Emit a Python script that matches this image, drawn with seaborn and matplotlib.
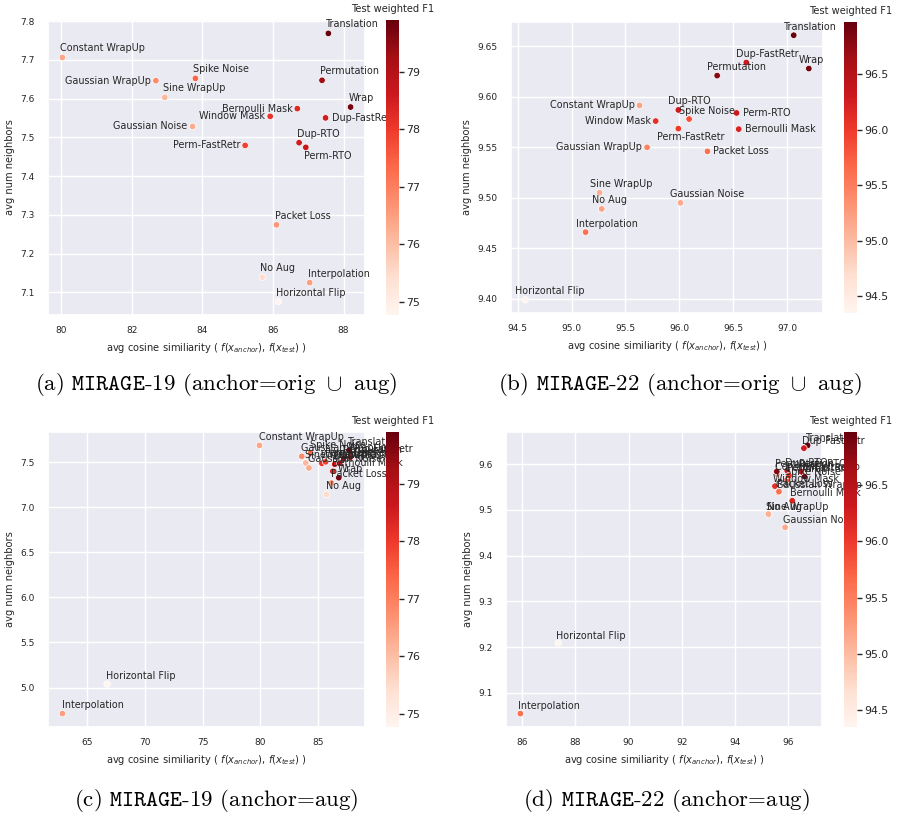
import matplotlib
matplotlib.use("Agg")
import numpy as np
import pandas as pd
import seaborn as sns
import matplotlib.pyplot as plt
from matplotlib.ticker import MultipleLocator
from matplotlib.colors import Normalize
from matplotlib.cm import ScalarMappable

# ---------------- data ----------------
augs = ["No Aug", "Constant WrapUp", "Gaussian WrapUp", "Sine WrapUp", "Spike Noise",
        "Gaussian Noise", "Bernoulli Mask", "Window Mask", "Horizontal Flip", "Interpolation",
        "Packet Loss", "Translation", "Wrap", "Permutation", "Dup-RTO", "Dup-FastRetr",
        "Perm-RTO", "Perm-FastRetr"]

# MIRAGE-19 test weighted F1
m19_f1 = [75.5, 76.4, 76.8, 76.1, 77.4, 76.3, 78.3, 78.1, 74.77, 76.5,
          76.6, 79.9, 79.75, 79.3, 78.55, 78.5, 78.7, 77.9]
# MIRAGE-19, anchor = orig U aug
m19_cos_origaug = [85.70, 80.03, 82.68, 82.93, 83.80, 83.72, 86.69, 85.92, 86.15, 87.04,
                   86.10, 87.57, 88.20, 87.39, 86.74, 87.49, 86.93, 85.21]
m19_nbr_origaug = [7.139, 7.706, 7.646, 7.603, 7.652, 7.528, 7.574, 7.554, 7.076, 7.125,
                   7.274, 7.768, 7.578, 7.647, 7.486, 7.550, 7.474, 7.479]
# MIRAGE-19, anchor = aug
m19_cos_aug = [85.71, 79.91, 83.57, 83.91, 84.34, 84.19, 86.25, 85.31, 66.74, 62.88,
               86.14, 87.65, 86.77, 87.19, 86.42, 87.79, 86.85, 85.63]
m19_nbr_aug = [7.143, 7.684, 7.563, 7.489, 7.599, 7.434, 7.397, 7.486, 5.039, 4.712,
               7.268, 7.629, 7.326, 7.541, 7.475, 7.555, 7.486, 7.502]

# MIRAGE-22 test weighted F1
m22_f1 = [95.2, 95.2, 95.45, 95.1, 95.85, 95.15, 96.2, 96.1, 94.35, 95.6,
          95.6, 96.97, 96.9, 96.8, 96.3, 96.3, 96.3, 96.0]
# MIRAGE-22, anchor = orig U aug
m22_cos_origaug = [95.28, 95.63, 95.70, 95.26, 96.09, 96.01, 96.55, 95.78, 94.57, 95.13,
                   96.26, 97.06, 97.20, 96.35, 95.99, 96.62, 96.53, 95.99]
m22_nbr_origaug = [9.489, 9.5915, 9.550, 9.505, 9.578, 9.495, 9.568, 9.576, 9.399, 9.466,
                   9.546, 9.661, 9.628, 9.621, 9.587, 9.634, 9.584, 9.5685]
# MIRAGE-22, anchor = aug
m22_cos_aug = [95.28, 95.59, 95.64, 95.26, 95.97, 95.89, 96.16, 95.51, 87.35, 85.93,
               95.66, 96.74, 96.62, 95.58, 95.97, 96.60, 96.49, 96.04]
m22_nbr_aug = [9.489, 9.578, 9.538, 9.491, 9.566, 9.462, 9.520, 9.552, 9.209, 9.055,
               9.540, 9.641, 9.573, 9.584, 9.586, 9.635, 9.584, 9.575]

captions = [r"$\text{(a) }\mathtt{MIRAGE}\text{-19 (anchor=orig }\cup\text{ aug)}$",
            r"$\text{(b) }\mathtt{MIRAGE}\text{-22 (anchor=orig }\cup\text{ aug)}$",
            r"$\text{(c) }\mathtt{MIRAGE}\text{-19 (anchor=aug)}$",
            r"$\text{(d) }\mathtt{MIRAGE}\text{-22 (anchor=aug)}$"]

# label placement per panel (default: above the point)
place_a = {"Gaussian WrapUp": "left", "Bernoulli Mask": "left", "Window Mask": "left",
           "Gaussian Noise": "left", "Perm-FastRetr": "left", "Dup-FastRetr": "right",
           "Perm-RTO": "down"}
place_b = {"Constant WrapUp": "left", "Window Mask": "left", "Gaussian WrapUp": "left",
           "Perm-RTO": "right", "Bernoulli Mask": "right", "Packet Loss": "right",
           "Perm-FastRetr": "down"}

# ---------------- style ----------------
sns.set_theme(style="darkgrid")
plt.rcParams["font.family"] = ["DejaVu Sans"]
plt.rcParams.update({"xtick.major.size": 0, "ytick.major.size": 0})

W, H = 901, 818
fig = plt.figure(figsize=(W / 100, H / 100), dpi=100)


def frac(x0, y0, x1, y1):
    return [x0 / W, 1 - y1 / H, (x1 - x0) / W, (y1 - y0) / H]


panels = [
    dict(cos=m19_cos_origaug, nbr=m19_nbr_origaug, f1=m19_f1, box=(48, 20, 365, 315),
         cbox=(386, 20, 399, 315), xstep=2, ystep=0.1, up=(-1.4, 6.5), down=(-1.4, -6.2),
         place=place_a, cap=(216, 385)),
    dict(cos=m22_cos_origaug, nbr=m22_nbr_origaug, f1=m22_f1, box=(511, 22, 823, 313),
         cbox=(844, 22, 857, 313), xstep=0.5, ystep=0.05, up=(-7.2, 6.1), down=(-15.1, -6.0),
         place=place_b, cap=(680, 385)),
    dict(cos=m19_cos_aug, nbr=m19_nbr_aug, f1=m19_f1, box=(48, 432, 365, 727),
         cbox=(386, 432, 399, 727), xstep=5, ystep=0.5, up=(-0.5, 6.1), down=(-0.5, -6.1),
         place={}, cap=(216, 801)),
    dict(cos=m22_cos_aug, nbr=m22_nbr_aug, f1=m22_f1, box=(506, 432, 822, 727),
         cbox=(844, 432, 857, 727), xstep=2, ystep=0.1, up=(-1.5, 5.4), down=(-1.5, -5.4),
         place={}, cap=(666, 801)),
]

for i, p in enumerate(panels):
    ax = fig.add_axes(frac(*p["box"]))
    df = pd.DataFrame({"aug": augs, "cos": p["cos"], "nbr": p["nbr"], "f1": p["f1"]})
    norm = Normalize(min(p["f1"]), max(p["f1"]))
    sns.scatterplot(data=df, x="cos", y="nbr", hue="f1", palette="Reds", hue_norm=norm,
                    s=22, edgecolor="white", linewidth=0.5, legend=False, ax=ax, zorder=3)
    offs = {"up": (p["up"][0], p["up"][1], "left"),
            "down": (p["down"][0], p["down"][1], "left"),
            "left": (-3.6, 0, "right"),
            "right": (4.3, 0, "left")}
    for a, x, y in zip(df["aug"], df["cos"], df["nbr"]):
        dx, dy, ha = offs[p["place"].get(a, "up")]
        ax.annotate(a, (x, y), xytext=(dx, dy), textcoords="offset points",
                    ha=ha, va="center", fontsize=6.9, color=".15", zorder=4)
    ax.set_xlabel(r"avg cosine similiarity ( $f(x_{anchor})$, $f(x_{test})$ )", fontsize=7.1)
    ax.set_ylabel("avg num neighbors", fontsize=7.1)
    ax.xaxis.set_major_locator(MultipleLocator(p["xstep"]))
    ax.yaxis.set_major_locator(MultipleLocator(p["ystep"]))
    ax.tick_params(axis="x", labelsize=6.5, pad=8)
    ax.tick_params(axis="y", labelsize=6.5, pad=9.5)

    cax = fig.add_axes(frac(*p["cbox"]))
    cb = fig.colorbar(ScalarMappable(norm=norm, cmap="Reds"), cax=cax)
    cb.outline.set_visible(False)
    cax.grid(False)
    cax.tick_params(axis="y", right=True, length=3.4, width=1, color=".15",
                    pad=1.5, labelsize=7.9)
    cax.set_title("Test weighted F1", fontsize=7.1, pad=5.4, color=".15")

    fig.text(p["cap"][0] / W, 1 - p["cap"][1] / H, captions[i], ha="center", va="center",
             fontsize=16.5, math_fontfamily="cm", color="black")

fig.savefig("out.png", dpi=100, facecolor="white")
